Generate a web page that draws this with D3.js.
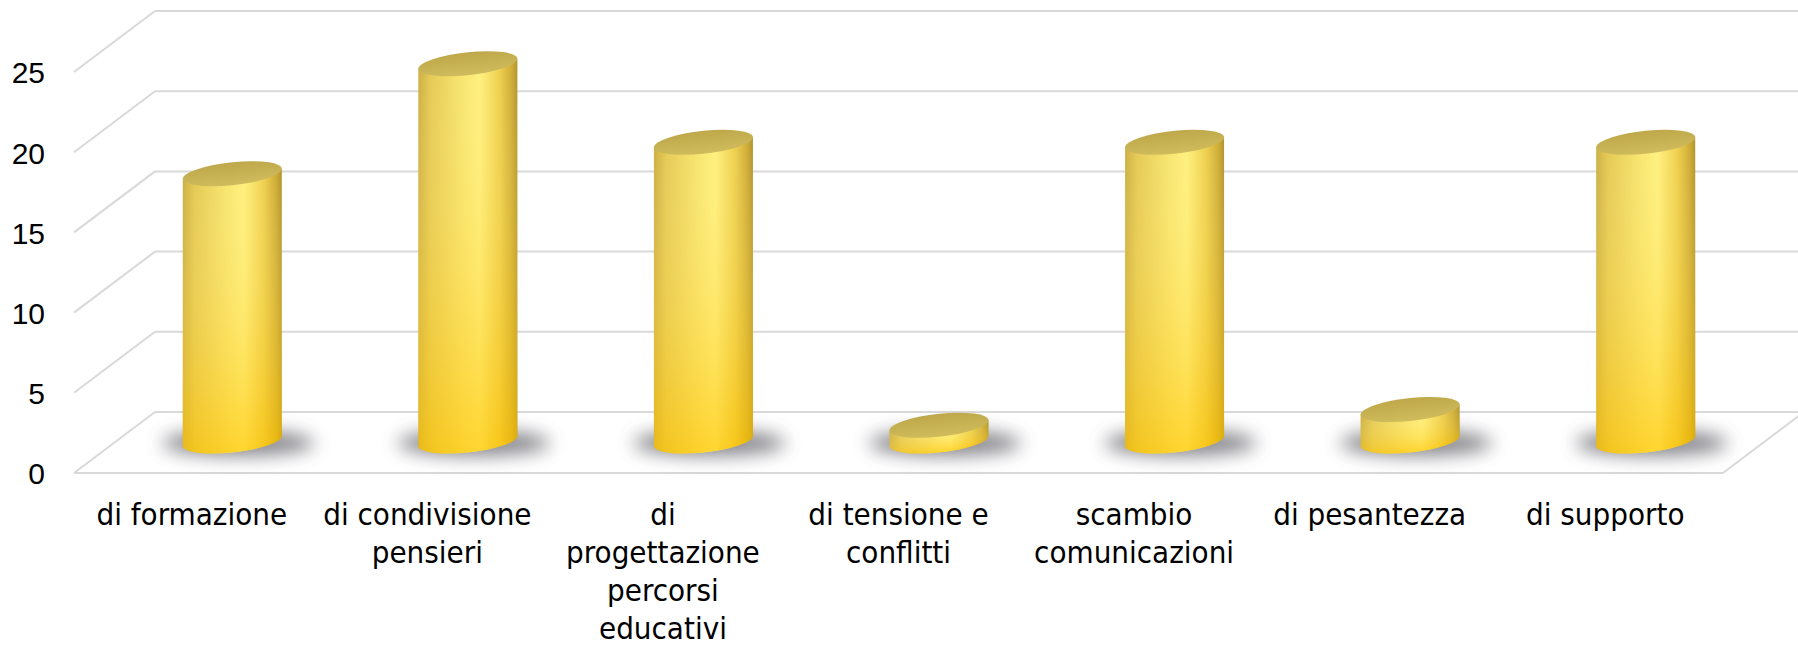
<!DOCTYPE html>
<html>
<head>
<meta charset="utf-8">
<script src="https://cdn.jsdelivr.net/npm/d3@7"></script>
<style>
  html, body { margin: 0; padding: 0; background: #fff; }
  svg { display: block; }
  .ylab text { font-family: "Liberation Sans", Arial, sans-serif; font-size: 30px; fill: #000; }
  .xlab text { font-family: "DejaVu Sans Condensed", "DejaVu Sans", sans-serif; font-stretch: condensed; font-size: 31px; fill: #000; }
</style>
</head>
<body>
<main></main>
<script>
// Constants
const WIDTH = 1798;
const HEIGHT = 645;
const DX = 81;   // depth offset of the back wall
const DY = -61;

// Data
const categories = [
  'di formazione',
  'di condivisione\npensieri',
  'di\nprogettazione\npercorsi\neducativi',
  'di tensione e\nconflitti',
  'scambio\ncomunicazioni',
  'di pesantezza',
  'di supporto',
];
const values = [17, 24, 19, 1, 19, 2, 19];
const yTicks = [0, 5, 10, 15, 20, 25];

// Scales
const x = d3.scaleBand(d3.range(categories.length), [74, 1723]);
const y = d3.scaleLinear([0, 25], [473, 72]);
const yBar = d3.scaleLinear([0, 25], [441, 48]);

const bw = x.bandwidth();
const RX = 49.5;
const RY = 11.5;
const SKEW = -5.8;

const svg = d3.select('main')
  .append('svg')
  .attr('width', WIDTH)
  .attr('height', HEIGHT);

const defs = svg.append('defs');

// horizontal shading of the cylinder body
const side = defs.append('linearGradient').attr('id', 'side');
[
  [0, '#c7a83a'], [0.12, '#e2c54c'], [0.45, '#f8e46a'], [0.62, '#fff07a'],
  [0.82, '#eccb44'], [0.94, '#c9a52a'], [1, '#a8891e'],
].forEach(([o, c]) => side.append('stop').attr('offset', o).attr('stop-color', c));

// vertical warming towards the base
const warm = defs.append('linearGradient').attr('id', 'warm')
  .attr('x1', 0).attr('x2', 0).attr('y1', 0).attr('y2', 1);
warm.append('stop').attr('offset', 0).attr('stop-color', '#fff6b0').attr('stop-opacity', 0.1);
warm.append('stop').attr('offset', 1).attr('stop-color', '#ffc400').attr('stop-opacity', 0.6);

const cap = defs.append('linearGradient').attr('id', 'cap')
  .attr('x1', 0).attr('x2', 0).attr('y1', 0).attr('y2', 1);
cap.append('stop').attr('offset', 0).attr('stop-color', '#bea84a');
cap.append('stop').attr('offset', 1).attr('stop-color', '#d0bc5c');

defs.append('filter').attr('id', 'blur')
  .attr('x', '-50%').attr('y', '-100%').attr('width', '200%').attr('height', '300%')
  .append('feGaussianBlur').attr('stdDeviation', 9);

// Grid: back wall lines, left wall diagonals
const grid = svg.append('g').attr('stroke', '#d9d9d9').attr('stroke-width', 2).attr('fill', 'none');
grid.selectAll('.back')
  .data(yTicks)
  .enter()
  .append('line')
  .attr('x1', x.range()[0] + DX)
  .attr('x2', x.range()[1] + DX)
  .attr('y1', (d) => y(d) + DY)
  .attr('y2', (d) => y(d) + DY);
grid.selectAll('.diag')
  .data(yTicks)
  .enter()
  .append('line')
  .attr('x1', x.range()[0])
  .attr('x2', x.range()[0] + DX)
  .attr('y1', (d) => y(d))
  .attr('y2', (d) => y(d) + DY);
// floor front edge and right edge
grid.append('line')
  .attr('x1', x.range()[0]).attr('x2', x.range()[1])
  .attr('y1', y(0)).attr('y2', y(0));
grid.append('line')
  .attr('x1', x.range()[1]).attr('x2', x.range()[1] + DX)
  .attr('y1', y(0)).attr('y2', y(0) + DY);

// Bars as cylinders
const bars = values.map((v, i) => ({
  cx: x(i) + bw / 2 + DX / 2,
  top: yBar(v),
  base: yBar(0),
}));

// shadows first
svg.append('g')
  .selectAll('ellipse')
  .data(bars)
  .enter()
  .append('ellipse')
  .attr('cx', (d) => d.cx + 6)
  .attr('cy', (d) => d.base + 2)
  .attr('rx', 76)
  .attr('ry', 13)
  .attr('fill', '#55555c')
  .attr('opacity', 0.7)
  .attr('filter', 'url(#blur)');

const cyl = svg.append('g')
  .selectAll('g')
  .data(bars)
  .enter()
  .append('g')
  .attr('transform', (d) => `translate(${d.cx},0) skewY(${SKEW})`);

const bodyPath = (d) =>
  `M${-RX},${d.top} L${-RX},${d.base} A${RX},${RY} 0 0 0 ${RX},${d.base} L${RX},${d.top} Z`;

cyl.append('path').attr('d', bodyPath).attr('fill', 'url(#side)');
cyl.append('path').attr('d', bodyPath).attr('fill', 'url(#warm)');
cyl.append('ellipse')
  .attr('cx', 0)
  .attr('cy', (d) => d.top)
  .attr('rx', RX)
  .attr('ry', RY)
  .attr('fill', 'url(#cap)');

// Y axis labels
const yAxis = d3.axisLeft(y).tickValues(yTicks).tickSize(0).tickPadding(0);
svg.append('g')
  .attr('class', 'ylab')
  .attr('transform', 'translate(45,0)')
  .call(yAxis)
  .call((g) => g.select('.domain').remove())
  .selectAll('text')
  .attr('font-family', null)
  .attr('font-size', null)
  .attr('dy', '0.36em');

// X axis labels (wrapped)
const xAxis = d3.axisBottom(x).tickSize(0).tickFormat(() => '');
const xg = svg.append('g')
  .attr('class', 'xlab')
  .attr('transform', `translate(0,${y(0)})`)
  .call(xAxis)
  .call((g) => g.select('.domain').remove());
xg.selectAll('.tick text')
  .attr('font-family', null)
  .attr('font-size', null)
  .attr('y', 52)
  .attr('dy', 0)
  .each(function (i) {
    const t = d3.select(this);
    categories[i].split('\n').forEach((line, k) => {
      t.append('tspan').attr('x', 0).attr('dy', k === 0 ? 0 : 38).text(line);
    });
  });
</script>
</body>
</html>
